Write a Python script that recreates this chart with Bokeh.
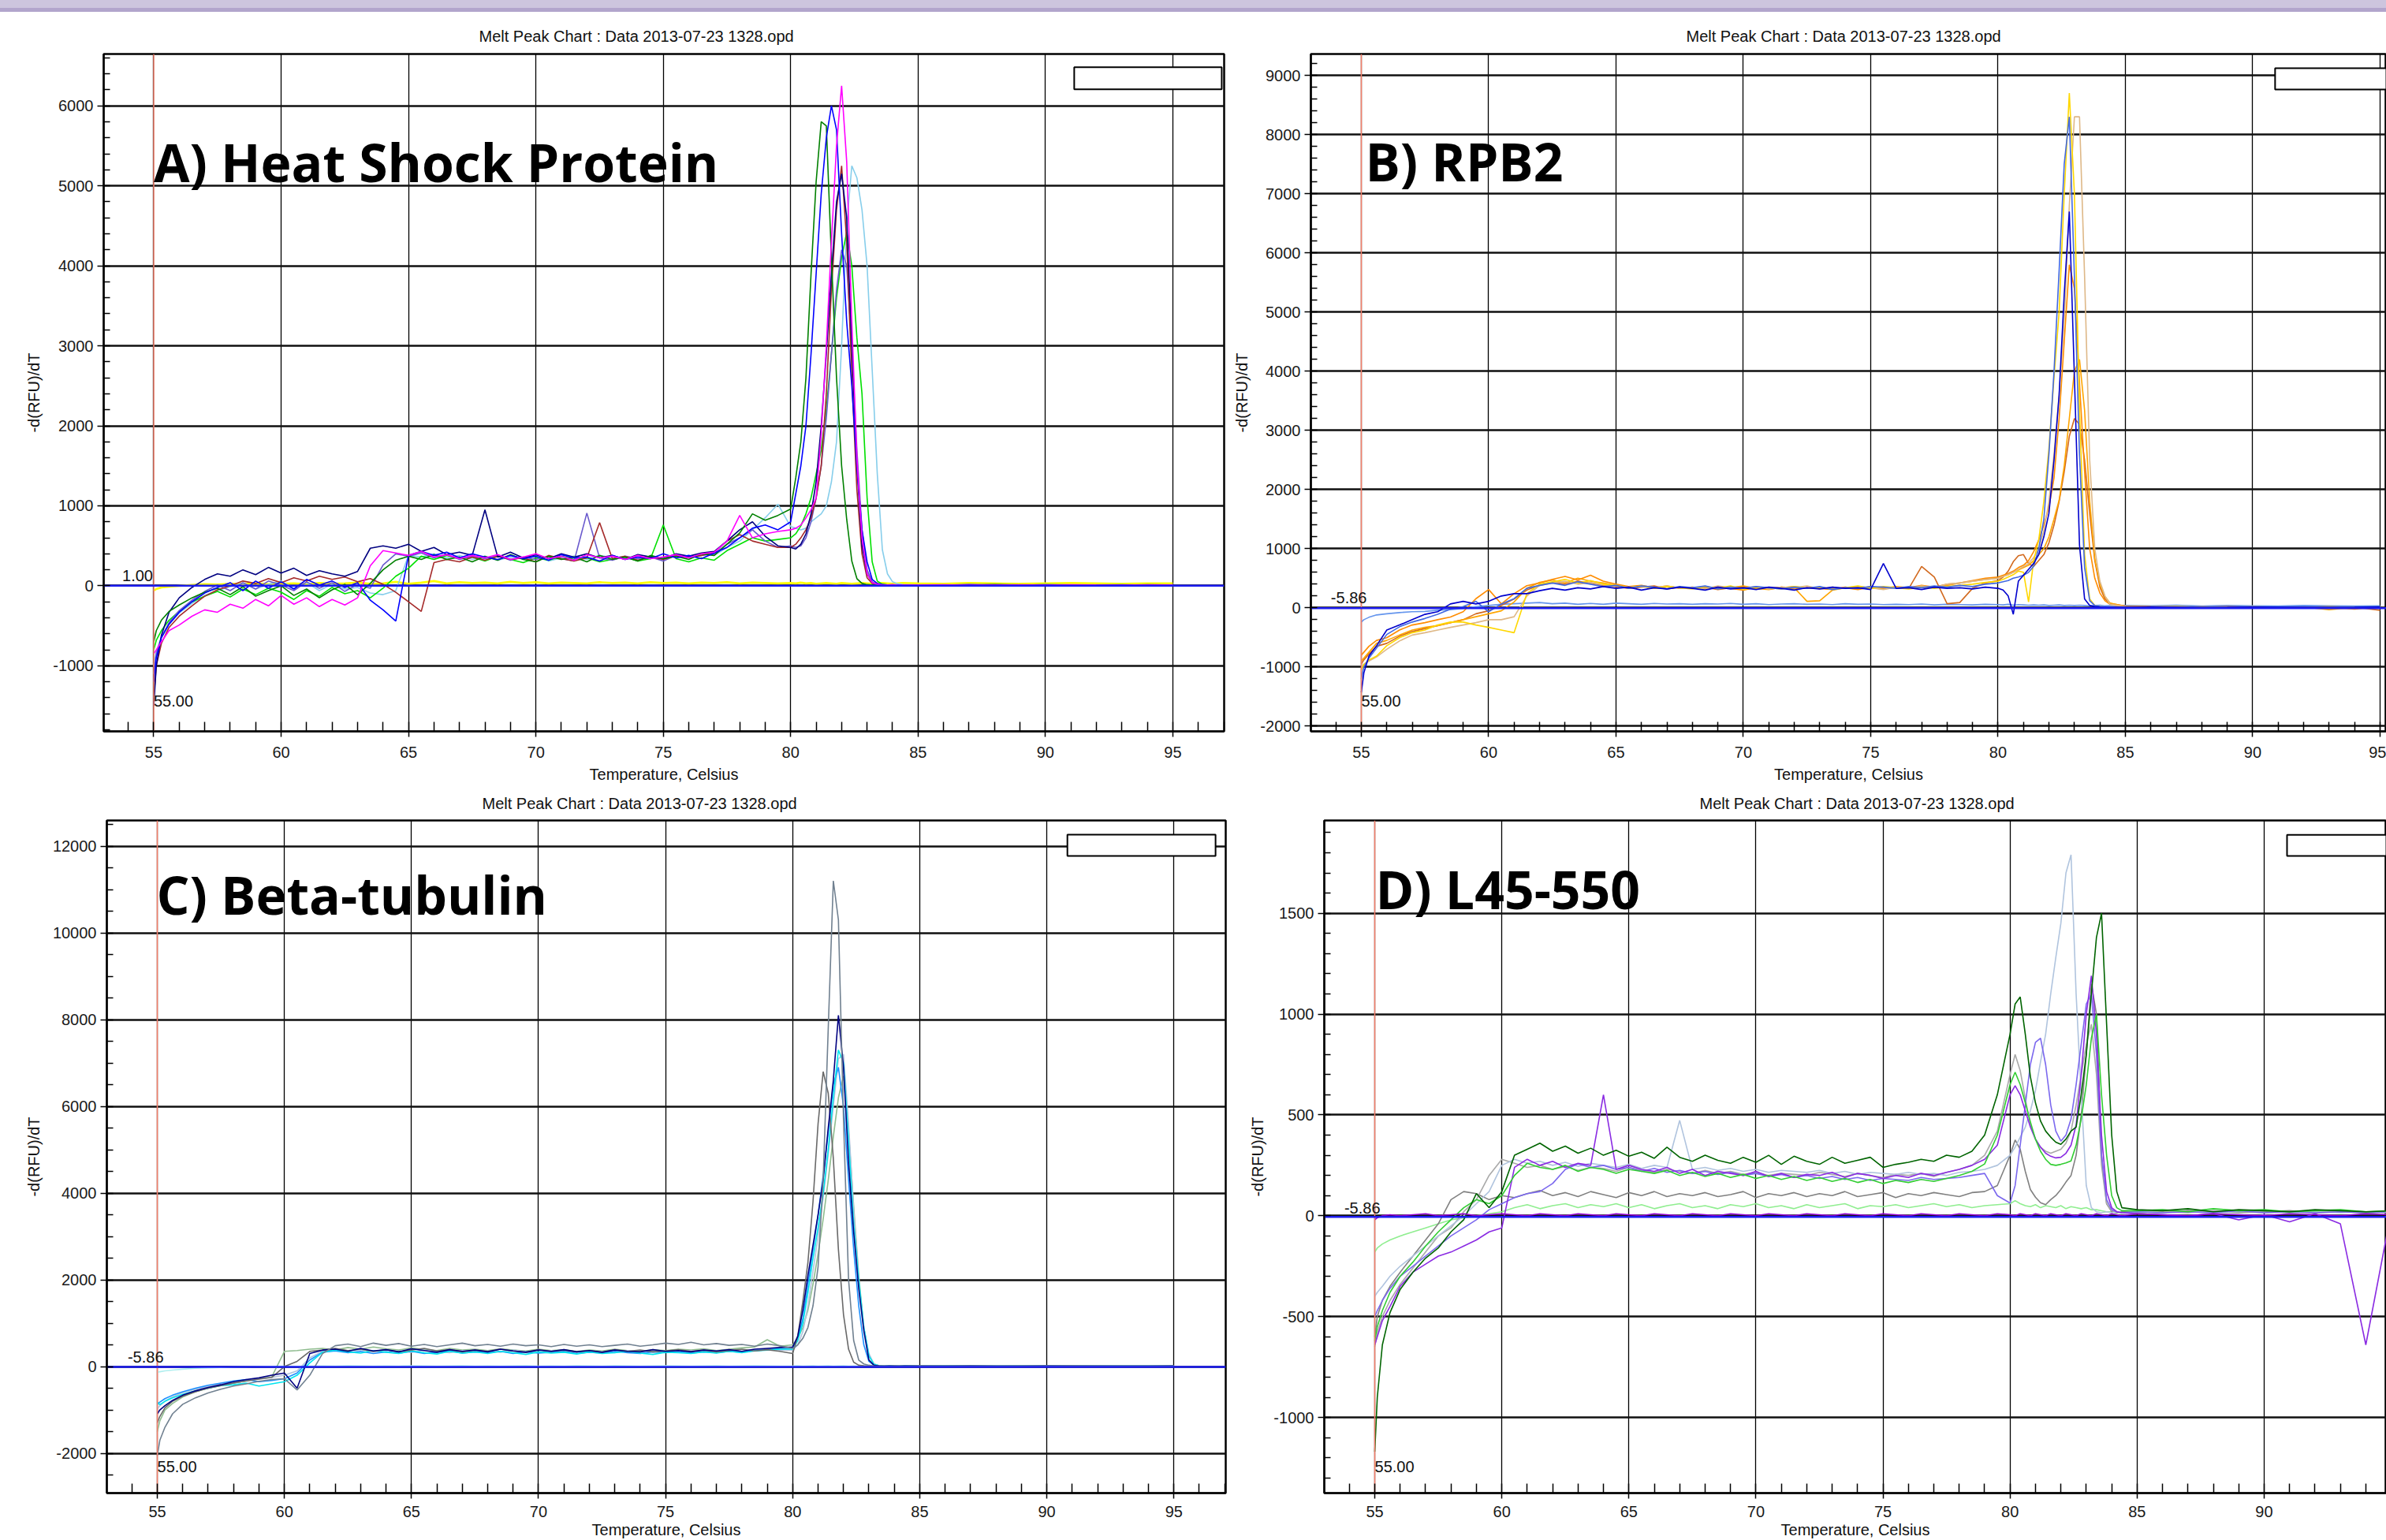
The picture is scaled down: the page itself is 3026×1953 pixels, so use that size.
from bokeh.plotting import figure
from bokeh.models import Range1d, FixedTicker, Span, Label, BoxAnnotation, Div
from bokeh.layouts import column, row
from bokeh.embed import file_html
from bokeh.resources import INLINE

# ---------------- data ----------------
TEMP = [55.0, 55.1, 55.3, 55.6,
        56.0, 56.5, 57.0, 57.5, 58.0, 58.5, 59.0, 59.5,
        60.0, 60.5, 61.0, 61.5, 62.0, 62.5, 63.0, 63.5,
        64.0, 64.5, 65.0, 65.5, 66.0, 66.5, 67.0, 67.5,
        68.0, 68.5, 69.0, 69.5, 70.0, 70.5, 71.0, 71.5,
        72.0, 72.5, 73.0, 73.5, 74.0, 74.5, 75.0, 75.5,
        76.0, 76.5, 77.0, 77.5, 78.0, 78.5, 79.0, 79.5,
        80.0, 80.2, 80.4, 80.6, 80.8, 81.0, 81.2, 81.4,
        81.6, 81.8, 82.0, 82.2, 82.4, 82.6, 82.8, 83.0,
        83.2, 83.4, 83.6, 83.8, 84.0, 84.2, 84.4,
        85.0, 86.0, 87.0, 88.0, 89.0, 90.0, 91.0, 92.0, 93.0, 94.0, 95.0]

# Panel A - Heat Shock Protein
A_DKGREEN = [-700, -560, -430, -320,
             -240, -150, -80, -30, -110, -10, -130, -60,
             0, -120, -40, -150, -50, 20, -110, 30,
             200, 320, 370, 330, 390, 330, 360, 300,
             370, 320, 390, 330, 300, 370, 330, 360,
             300, 380, 330, 360, 310, 380, 340, 370,
             330, 400, 380, 520, 660, 900, 820, 880,
             960, 1350, 1800, 2600, 3900, 5050, 5800, 5750,
             4100, 2600, 1500, 830, 310, 90, 30, 15,
             10, 15, 8, 12, 10, 8, 12,
             10, 12, 8, 15, 10, 12, 8, 10, 14, 9, 10]
A_BLUE = [-1200, -900, -650, -480,
          -330, -200, -90, -20, 40, -60, 60, -30,
          50, -40, 80, 10, 60, -20, 40, -180,
          -300, -440, 380, 430, 380, 420, 350, 400,
          360, 330, 380, 340, 370, 320, 390, 350,
          360, 310, 380, 330, 360, 340, 400, 350,
          380, 340, 410, 480, 600, 720, 760, 700,
          800, 1150, 1500, 2000, 2900, 3900, 4900, 5600,
          6000, 5700, 4400, 3300, 2500, 1500, 700, 300,
          80, 30, 15, 10, 12, 8, 10,
          12, 8, 15, 10, 9, 14, 10, 8, 12, 10, 9]
A_MAGENTA = [-850, -800, -700, -560,
             -490, -380, -300, -330, -230, -280, -170, -250,
             -120, -230, -150, -260, -170, -240, -150, 250,
             440, 410, 380, 430, 360, 390, 340, 380,
             350, 390, 330, 360, 400, 340, 370, 320,
             390, 350, 370, 330, 380, 340, 360, 390,
             350, 400, 420, 560, 880, 600, 650, 680,
             700, 720, 760, 850, 950, 1100, 1900, 3000,
             4300, 5500, 6250, 5300, 3300, 1600, 600, 150,
             40, 20, 12, 10, 15, 8, 12,
             10, 14, 9, 12, 10, 8, 13, 10, 9, 12, 10]
A_BROWN = [-1400, -1000, -720, -520,
           -380, -250, -130, -50, 0, 60, 30, 90,
           40, 100, 60, 120, 80, 110, 50, 90,
           20, -80, -200, -320, 290, 330, 300, 360,
           320, 370, 330, 350, 300, 380, 340, 310,
           350, 790, 340, 370, 320, 360, 330, 380,
           350, 380, 420, 560, 640, 560, 520, 480,
           480, 520, 600, 700, 850, 1100, 1500, 2400,
           3700, 4700, 5250, 4300, 2600, 1200, 400, 100,
           30, 15, 10, 12, 8, 10, 12,
           9, 12, 10, 8, 14, 10, 9, 12, 10, 8, 11]
A_NAVY = [-1500, -1000, -620, -330,
          -150, -20, 80, 150, 120, 200, 140, 230,
          160, 220, 130, 190, 150, 120, 180, 470,
          500, 470, 520, 430, 480, 390, 420, 380,
          950, 360, 420, 350, 390, 340, 400, 360,
          400, 350, 380, 330, 390, 360, 340, 400,
          370, 410, 430, 560, 700, 800, 620, 500,
          480, 460, 520, 650, 900, 1300, 2000, 2900,
          3900, 4800, 5150, 4600, 3000, 1500, 500, 150,
          40, 15, 10, 12, 8, 10, 12,
          10, 12, 9, 14, 10, 8, 12, 10, 9, 13, 10]
A_SKYBLUE = [-1000, -820, -640, -480,
             -340, -220, -120, -60, -10, 30, -40, 20,
             60, -30, 40, -60, 20, -40, -20, -90,
             -110, -60, 380, 360, 400, 350, 380, 330,
             370, 320, 360, 340, 380, 310, 350, 370,
             330, 380, 350, 360, 320, 370, 340, 390,
             360, 400, 380, 480, 560, 700, 850, 1020,
             740, 720, 700, 720, 800, 850, 900, 1000,
             1300, 1800, 3000, 4500, 5250, 5100, 4700, 4000,
             2700, 1400, 450, 150, 50, 25, 15,
             12, 10, 9, 12, 10, 8, 12, 10, 9, 11, 10]
A_LIME = [-800, -680, -560, -430,
          -320, -200, -130, -70, -140, -40, -110, -30,
          -80, -170, -60, -130, -20, -100, -60, -150,
          -30, 120, 220, 370, 330, 380, 340, 360,
          310, 370, 330, 290, 350, 320, 370, 330,
          350, 300, 330, 360, 310, 340, 760, 340,
          300, 350, 320, 440, 520, 600, 560, 580,
          600, 650, 750, 900, 1100, 1400, 1700, 2200,
          2900, 3600, 4100, 4420, 4000, 3100, 2400, 1100,
          300, 60, 20, 12, 10, 8, 12,
          10, 9, 12, 10, 8, 13, 10, 9, 12, 10, 8]
A_SLATE = [-1100, -850, -640, -460,
           -310, -180, -70, 10, -60, 40, -40, 60,
           10, -60, 50, -30, 40, -70, 20, -30,
           260, 400, 370, 410, 350, 390, 330, 370,
           340, 380, 320, 360, 330, 370, 340, 310,
           910, 350, 320, 370, 340, 360, 310, 380,
           350, 380, 400, 520, 600, 700, 560, 480,
           500, 480, 500, 600, 800, 1100, 1500, 2100,
           2900, 3700, 4200, 4000, 3000, 1700, 700, 200,
           50, 20, 10, 12, 8, 10, 12,
           10, 12, 9, 11, 10, 8, 12, 10, 9, 12, 10]
A_YELLOW = [-60, -40, -20, -10,
            0, 10, 20, 15, 25, 20, 30, 20,
            25, 30, 20, 35, 25, 30, 40, 25,
            30, 50, 25, 40, 60, 30, 45, 35,
            40, 30, 50, 35, 45, 30, 40, 35,
            30, 45, 35, 40, 30, 45, 35, 40,
            30, 40, 35, 45, 30, 40, 35, 30,
            35, 30, 40, 30, 35, 25, 30, 35,
            30, 25, 35, 30, 25, 30, 35, 30,
            25, 30, 35, 30, 25, 30, 35,
            30, 25, 35, 30, 25, 30, 35, 30, 25, 30, 30]

# Panel B - RPB2
B_YELLOW = [-1050, -960, -880, -815,
            -640, -505, -420, -375, -290, -240, -240, -290,
            -330, -375, -420, 240, 400, 440, 480, 420,
            460, 400, 380, 340, 370, 330, 360, 340,
            320, 360, 330, 370, 310, 350, 340, 320,
            360, 330, 350, 310, 340, 370, 330, 360,
            340, 320, 350, 330, 360, 380, 400, 430,
            450, 480, 520, 560, 620, 600, 100, 800,
            1150, 1800, 2700, 3900, 5000, 7000, 8700, 7000,
            3340, 900, 150, 40, 20, 15, 10,
            15, 10, 20, 12, 8, 15, 10, 12, 18, 10, 12]
B_TAN = [-1000, -950, -900, -830,
         -700, -560, -460, -420, -375, -330, -290, -250,
         -200, -200, -150, 200, 380, 420, 450, 400,
         430, 390, 370, 350, 360, 340, 370, 330,
         350, 320, 370, 340, 330, 360, 320, 350,
         340, 370, 320, 350, 330, 360, 340, 310,
         350, 330, 370, 340, 400, 420, 450, 480,
         500, 530, 560, 600, 650, 700, 750, 850,
         1000, 1300, 1800, 2600, 3600, 4850, 6800, 8300,
         8300, 5600, 2500, 1000, 450, 200, 60,
         20, 15, 10, 12, 18, 10, 12, 15, 10, 12, 14]
B_BLUE = [-1200, -1000, -850, -680,
          -450, -320, -240, -180, -110, -22, 22, 110,
          -66, 66, 155, 330, 380, 420, 380, 440,
          400, 360, 380, 330, 370, 350, 320, 360,
          340, 370, 320, 350, 330, 360, 340, 320,
          350, 330, 360, 310, 340, 330, 360, 350,
          330, 360, 340, 370, 350, 380, 360, 400,
          420, 440, 460, 500, 520, 550, 600, 700,
          1000, 1500, 2600, 4000, 5700, 7500, 8300, 5600,
          2580, 680, 120, 40, 20, 15, 10,
          12, 10, 15, 8, 12, 10, 14, 9, 12, 10, 20]
B_NAVY = [-1430, -1100, -815, -640,
          -375, -290, -200, -110, -66, 66, 110, 66,
          110, 200, 240, 240, 290, 330, 300, 340,
          320, 360, 330, 350, 300, 340, 320, 350,
          330, 300, 350, 320, 340, 310, 350, 330,
          300, 340, 320, 350, 330, 340, 310, 750,
          330, 340, 310, 350, 330, 340, 320, 350,
          330, 300, 200, -110, 450, 550, 650, 750,
          900, 1200, 1600, 2500, 3600, 5300, 6700, 3900,
          1060, 150, 40, 20, 15, 10, 12,
          10, 15, 12, 8, 10, 14, 10, 12, 9, 10, 15]
B_DKORANGE = [-800, -750, -650, -550,
              -505, -375, -290, -250, -200, -155, -66, 155,
              310, 66, 240, 375, 420, 480, 530, 470,
              550, 450, 400, 360, 380, 340, 370, 330,
              350, 320, 360, 330, 300, 350, 320, 340,
              360, 330, 350, 320, 340, 310, 350, 330,
              360, 340, 380, 350, 400, 420, 460, 500,
              520, 550, 580, 620, 680, 720, 800, 950,
              1150, 1400, 1700, 2200, 3200, 4500, 5800, 5400,
              3800, 2300, 1000, 500, 250, 120, 60,
              20, 15, 10, 18, 12, 10, 15, 12, 10, -20, 15]
B_ORANGE = [-900, -850, -750, -600,
            -550, -460, -375, -330, -300, -250, -200, -150,
            -100, -50, 100, 330, 430, 470, 420, 500,
            450, 420, 380, 350, 370, 330, 360, 340,
            330, 360, 320, 340, 370, 330, 310, 350,
            340, 110, 120, 300, 340, 320, 360, 330,
            350, 330, 360, 340, 380, 420, 450, 480,
            500, 530, 560, 600, 640, 680, 720, 800,
            900, 1000, 1200, 1500, 1820, 2400, 3200, 4000,
            4200, 3340, 1800, 830, 400, 190, 80,
            25, 15, 20, 10, 12, 18, 10, 15, -30, 10, 12]
B_CHOC = [-950, -880, -780, -650,
          -600, -480, -400, -350, -300, -250, -200, -100,
          -50, 40, 150, 300, 380, 430, 400, 450,
          420, 380, 360, 330, 350, 370, 320, 350,
          330, 350, 310, 340, 360, 320, 330, 350,
          320, 340, 330, 310, 350, 330, 340, 320,
          350, 330, 700, 520, 70, 90, 330, 420,
          460, 520, 620, 780, 880, 900, 750, 700,
          800, 900, 1100, 1400, 1800, 2300, 2900, 3200,
          3100, 2500, 1600, 800, 350, 150, 75,
          30, 20, 15, 10, 20, 12, 15, 10, 18, 12, -40]
B_CORNFLOWER = [-240, -200, -160, -120,
                -100, -80, -66, -60, -40, -30, -10, 20,
                40, 60, 70, 80, 90, 70, 80, 60,
                75, 60, 80, 70, 60, 75, 65, 70,
                60, 70, 65, 75, 60, 70, 55, 65,
                70, 60, 65, 55, 70, 60, 65, 55,
                60, 55, 65, 50, 60, 55, 50, 60,
                55, 50, 60, 45, 55, 50, 45, 50,
                45, 50, 40, 45, 50, 40, 45, 40,
                45, 40, 35, 40, 45, 35, 40,
                40, 35, 45, 30, 40, 35, 30, 40, 35, 30, 35]

# Panel C - Beta-tubulin
C_SLATE = [-2050, -1700, -1400, -1090,
           -870, -720, -610, -520, -450, -400, -340, -300,
           -280, -540, -200, 300, 480, 520, 460, 540,
           490, 530, 470, 510, 460, 500, 540, 480,
           510, 470, 520, 480, 500, 460, 510, 470,
           500, 460, 490, 520, 470, 500, 540, 510,
           560, 500, 530, 490, 510, 470, 520, 480,
           420, 500, 650, 900, 1400, 2300, 4300, 7800,
           11200, 10300, 5700, 2000, 600, 150, 60, 30,
           15, 10, 12, 8, 10, 12, 8,
           10, 12, 8, 10, 14, 10, 8, 12, 10, 9, 11]
C_NAVY = [-1090, -1000, -900, -780,
          -660, -560, -480, -420, -350, -300, -260, -200,
          -150, -500, 300, 380, 400, 350, 420, 360,
          390, 340, 410, 370, 330, 390, 350, 380,
          340, 400, 360, 330, 380, 350, 390, 340,
          370, 330, 380, 350, 340, 390, 350, 370,
          340, 380, 360, 390, 350, 400, 420, 440,
          450, 700, 1300, 2100, 2800, 3500, 4300, 5500,
          6600, 8100, 6900, 4700, 3100, 1800, 830, 150,
          30, 15, 10, 12, 8, 10, 12,
          10, 8, 12, 10, 9, 12, 10, 8, 11, 10, 12]
C_CYAN = [-820, -880, -800, -720,
          -640, -560, -500, -440, -420, -380, -450, -400,
          -350, -200, 85, 330, 380, 340, 310, 370,
          330, 300, 360, 320, 290, 350, 310, 340,
          300, 350, 320, 280, 340, 310, 330, 290,
          340, 300, 320, 350, 310, 280, 330, 320,
          300, 340, 310, 350, 320, 360, 380, 400,
          400, 600, 1000, 1700, 2500, 3200, 4000, 5000,
          6200, 7300, 7000, 5200, 3300, 2000, 900, 250,
          50, 20, 10, 12, 8, 10, 12,
          9, 12, 10, 8, 12, 10, 9, 11, 10, 8, 10]
C_LSTEEL = [-980, -900, -800, -700,
            -600, -520, -460, -400, -350, -320, -280, -250,
            -200, -100, 200, 350, 400, 360, 390, 340,
            380, 350, 330, 380, 350, 320, 370, 340,
            360, 330, 380, 340, 320, 370, 350, 330,
            360, 340, 320, 370, 340, 360, 330, 350,
            370, 340, 360, 380, 350, 390, 410, 380,
            380, 500, 800, 1400, 2200, 3000, 3900, 4900,
            6000, 7100, 7200, 5600, 3600, 2000, 900, 300,
            60, 20, 10, 12, 8, 10, 12,
            10, 12, 9, 10, 12, 8, 10, 11, 9, 10, 12]
C_DIMGRAY = [-1300, -1150, -950, -800,
             -680, -580, -500, -440, -380, -330, -290, -250,
             0, 120, 350, 380, 420, 370, 400, 350,
             390, 340, 380, 420, 360, 390, 340, 380,
             350, 400, 360, 330, 390, 350, 380, 340,
             370, 330, 390, 350, 380, 340, 360, 390,
             350, 380, 340, 370, 400, 360, 390, 350,
             300, 700, 1500, 2400, 3800, 5600, 6800, 6300,
             4800, 2700, 1200, 400, 100, 30, 20, 15,
             10, 12, 8, 10, 12, 9, 10,
             12, 10, 8, 11, 10, 9, 12, 10, 8, 10, 11]
C_DSGREEN = [-1500, -1250, -1000, -850,
             -700, -580, -500, -430, -380, -330, -280, -240,
             350, 370, 400, 420, 380, 440, 400, 450,
             410, 380, 430, 390, 370, 420, 380, 400,
             370, 410, 380, 360, 400, 370, 390, 350,
             380, 360, 400, 370, 350, 390, 370, 400,
             380, 410, 370, 400, 430, 450, 620, 470,
             500, 650, 900, 1300, 1900, 2600, 3400, 4300,
             5300, 6200, 6700, 5400, 3700, 2100, 900, 250,
             60, 20, 10, 12, 8, 10, 12,
             10, 9, 12, 10, 8, 12, 10, 9, 11, 10, 8]
C_DODGER = [-870, -820, -740, -660,
            -580, -500, -430, -380, -330, -300, -350, -320,
            -280, -150, 150, 330, 360, 320, 350, 300,
            340, 310, 350, 300, 330, 360, 310, 340,
            320, 350, 300, 340, 310, 330, 350, 300,
            330, 310, 350, 320, 300, 340, 320, 350,
            310, 340, 320, 350, 330, 370, 390, 410,
            420, 650, 1100, 1900, 2700, 3500, 4400, 5400,
            6500, 6900, 6000, 4300, 2700, 1400, 500, 120,
            30, 15, 10, 12, 8, 10, 12,
            8, 12, 10, 9, 11, 10, 8, 12, 10, 9, 10]
C_PALETURQ = [-130, -120, -100, -80,
              -60, -40, -30, -20, -10, -5, 0, 5,
              10, 5, 10, 15, 10, 20, 15, 10,
              15, 10, 20, 15, 10, 15, 20, 10,
              15, 10, 15, 20, 10, 15, 10, 20,
              15, 10, 20, 15, 10, 15, 20, 15,
              10, 15, 20, 10, 15, 20, 15, 10,
              15, 20, 10, 15, 20, 10, 15, 20,
              10, 15, 20, 10, 15, 10, 20, 15,
              10, 15, 10, 20, 15, 10, 15,
              10, 15, 20, 10, 15, 10, 20, 15, 10, 15, 10]

# Panel D - L45-550
D_DKGREEN = [-1170, -900, -640, -480,
             -365, -280, -210, -160, -80, -20, 110, 40,
             120, 300, 330, 360, 320, 345, 310, 335,
             300, 325, 295, 315, 285, 340, 290, 270,
             300, 275, 260, 290, 265, 300, 255, 295,
             270, 255, 290, 260, 275, 290, 240, 255,
             265, 280, 270, 300, 290, 320, 400, 600,
             900, 1050, 1085, 900, 690, 560, 470, 420,
             390, 365, 354, 380, 420, 440, 600, 800,
             1100, 1380, 1500, 950, 400, 120, 40,
             30, 25, 35, 20, 30, 25, 20, 30, 25, 20, 25]
D_GREEN = [-620, -550, -470, -380,
           -300, -230, -150, -80, -20, 40, 80, 60,
           100, 200, 260, 240, 230, 250, 220, 240,
           230, 210, 230, 220, 210, 225, 200, 215,
           195, 210, 190, 205, 185, 200, 180, 195,
           175, 190, 170, 185, 165, 180, 160, 175,
           165, 180, 170, 185, 200, 220, 257, 400,
           650, 712, 650, 560, 466, 380, 320, 280,
           255, 250, 255, 262, 272, 350, 480, 650,
           880, 1000, 600, 300, 100, 40, 25,
           25, 30, 20, 35, 25, 30, 20, 25, 30, 20, 25]
D_PALEGREEN = [-180, -160, -140, -120,
               -100, -80, -60, -40, -20, -10, 0, 10,
               20, 40, 55, 35, 50, 60, 40, 55,
               45, 60, 40, 55, 35, 50, 60, 40,
               50, 35, 55, 45, 60, 40, 50, 35,
               55, 40, 50, 60, 35, 50, 45, 55,
               40, 50, 60, 45, 55, 40, 50, 55,
               60, 75, 60, 50, 45, 55, 40, 50,
               45, 40, 50, 35, 45, 40, 35, 40,
               30, 30, 25, 20, 20, 15, 20,
               15, 20, 25, 15, 20, 25, 15, 20, 25, 15, 20]
D_GRAY = [-600, -500, -420, -350,
          -280, -200, -120, -40, 80, 120, 110, 80,
          100, 90, 110, 125, 100, 115, 95, 120,
          105, 90, 115, 100, 120, 95, 110, 100,
          115, 95, 105, 120, 90, 110, 100, 115,
          95, 110, 100, 120, 95, 105, 115, 90,
          110, 100, 115, 105, 95, 115, 120, 150,
          300, 376, 330, 220, 130, 92, 65, 55,
          80, 100, 130, 167, 200, 300, 500, 800,
          1150, 1000, 300, 60, 20, 15, 20,
          20, 15, 25, 20, 15, 20, 25, 15, 20, 15, 20]
D_SILVER = [-650, -580, -500, -420,
            -340, -260, -180, -100, -60, 20, 80, 200,
            280, 260, 240, 250, 230, 245, 225, 240,
            235, 220, 240, 225, 215, 230, 220, 210,
            225, 210, 220, 205, 215, 200, 210, 205,
            200, 215, 205, 195, 210, 200, 190, 205,
            200, 210, 195, 215, 230, 250, 300, 420,
            700, 800, 720, 580, 450, 380, 340, 320,
            310, 320, 330, 360, 420, 550, 700, 850,
            950, 700, 250, 60, 25, 20, 15,
            15, 20, 15, 25, 20, 15, 20, 15, 25, 20, 15]
D_BVIOLET = [-640, -600, -520, -450,
             -350, -280, -240, -200, -180, -150, -120, -80,
             -60, 240, 280, 250, 270, 240, 260, 250,
             600, 230, 250, 230, 220, 240, 210, 230,
             200, 220, 210, 200, 220, 195, 210, 190,
             205, 200, 215, 190, 210, 200, 185, 200,
             190, 210, 200, 215, 230, 250, 280, 350,
             600, 645, 600, 520, 440, 380, 340, 310,
             295, 287, 290, 310, 350, 450, 700, 1000,
             1190, 900, 400, 120, 40, 20, 15,
             10, 5, 0, 10, -20, 5, -30, 10, -40, -640, 20]
D_SLATE = [-500, -470, -420, -360,
           -300, -250, -200, -150, -100, -60, -20, 30,
           60, 90, 110, 120, 160, 230, 257, 240,
           250, 230, 240, 220, 235, 215, 225, 210,
           220, 205, 215, 200, 210, 195, 205, 190,
           200, 185, 195, 180, 190, 175, 185, 180,
           175, 190, 180, 185, 190, 200, 210, 100,
           63, 150, 350, 550, 750, 860, 880, 750,
           550, 420, 370, 400, 480, 650, 850, 1050,
           1100, 800, 300, 80, 30, 20, 15,
           20, 15, 20, 15, 25, 15, 20, 15, 20, 15, 20]
D_LSTEEL = [-400, -380, -350, -300,
            -250, -200, -150, -100, -50, 0, 60, 120,
            250, 280, 260, 270, 250, 265, 245, 260,
            250, 240, 255, 235, 250, 240, 473, 230,
            240, 225, 235, 220, 230, 215, 225, 220,
            215, 225, 210, 220, 205, 215, 210, 205,
            215, 205, 210, 200, 215, 220, 230, 250,
            300, 340, 390, 440, 520, 620, 764, 900,
            1100, 1280, 1450, 1700, 1790, 1100, 600, 150,
            40, 20, 15, 20, 15, 20, 15,
            20, 15, 20, 15, 20, 25, 15, 20, 15, 20, 15]
D_VIOLET = [-20, -10, 0, 5,
            0, 5, 10, 0, 5, 10, 0, 5,
            10, 5, 0, 10, 5, 0, 10, 5,
            0, 10, 5, 0, 10, 5, 0, 10,
            5, 0, 10, 5, 0, 10, 5, 0,
            10, 5, 0, 10, 5, 0, 10, 5,
            0, 10, 5, 0, 10, 5, 0, 10,
            5, 0, 10, 5, 0, 10, 5, 0,
            10, 5, 0, 10, 5, 0, 10, 5,
            0, 10, 5, 0, 10, 5, 0,
            10, 5, 0, 10, 5, 0, 10, 5, 0, 10, 5]

TITLE = "Melt Peak Chart : Data 2013-07-23 1328.opd"
X_MAJOR = [55, 60, 65, 70, 75, 80, 85, 90, 95]
A_Y_MAJOR = [-1000, 0, 1000, 2000, 3000, 4000, 5000, 6000]
B_Y_MAJOR = [-2000, -1000, 0, 1000, 2000, 3000, 4000, 5000, 6000, 7000, 8000, 9000]
C_Y_MAJOR = [-2000, 0, 2000, 4000, 6000, 8000, 10000, 12000]
D_Y_MAJOR = [-1000, -500, 0, 500, 1000, 1500]

SERIES_A = [("#ffff00", A_YELLOW), ("#87ceeb", A_SKYBLUE), ("#00e000", A_LIME), ("#6a5acd", A_SLATE),
            ("#a52a2a", A_BROWN), ("#000080", A_NAVY), ("#008000", A_DKGREEN), ("#0000ff", A_BLUE),
            ("#ff00ff", A_MAGENTA)]
SERIES_B = [("#6495ed", B_CORNFLOWER), ("#d2691e", B_CHOC), ("#ffa500", B_ORANGE), ("#ff8c00", B_DKORANGE),
            ("#deb887", B_TAN), ("#ffd700", B_YELLOW), ("#4169e1", B_BLUE), ("#0000cd", B_NAVY)]
SERIES_C = [("#afeeee", C_PALETURQ), ("#8fbc8f", C_DSGREEN), ("#b0c4de", C_LSTEEL), ("#1e90ff", C_DODGER),
            ("#00e5ee", C_CYAN), ("#696969", C_DIMGRAY), ("#000080", C_NAVY), ("#708090", C_SLATE)]
SERIES_D = [("#90ee90", D_PALEGREEN), ("#808080", D_GRAY), ("#a9a9a9", D_SILVER), ("#b0c4de", D_LSTEEL),
            ("#7b68ee", D_SLATE), ("#8a2be2", D_BVIOLET), ("#32cd32", D_GREEN), ("#006400", D_DKGREEN),
            ("#9400d3", D_VIOLET)]

FONT = "Liberation Sans"


def panel(width, height, bl, br, bt, bb, xr, yr, frame_h, ymajor, ystep, series,
          name, name_px, name_dx, thr, thr_text, thr_dx, thr_px, box,
          ylab_standoff, tick_standoff, xlab_standoff, label55_px, title_standoff):
    p = figure(width=width, height=height, x_range=Range1d(*xr), y_range=Range1d(*yr),
               output_backend="svg", toolbar_location=None,
               min_border_left=bl, min_border_right=br, min_border_top=bt, min_border_bottom=bb,
               background_fill_color="white", border_fill_color="white")
    p.title.text = TITLE
    p.title.align = "left"
    p.title.offset = 476
    p.title.standoff = title_standoff
    p.title.text_font = FONT
    p.title.text_font_size = "20px"
    p.title.text_font_style = "normal"
    p.title.text_color = "#111111"

    xt = FixedTicker(ticks=X_MAJOR, minor_ticks=list(range(53, 98)))
    ymin = list(range(int(yr[0] // ystep) * ystep, int(yr[1]) + 1, ystep))
    yt = FixedTicker(ticks=ymajor, minor_ticks=ymin)
    p.xaxis.ticker = xt
    p.yaxis.ticker = yt
    p.xgrid.ticker = xt
    p.ygrid.ticker = yt
    p.yaxis.major_label_overrides = {v: str(v) for v in ymajor}
    for ax in (p.xaxis, p.yaxis):
        ax.major_label_text_font = FONT
        ax.major_label_text_font_size = "20px"
        ax.major_label_text_color = "#1a1a1a"
        ax.axis_line_color = "black"
        ax.axis_line_width = 2
        ax.major_tick_line_color = "black"
        ax.major_tick_line_width = 1.5
        ax.minor_tick_line_color = "black"
        ax.minor_tick_line_width = 1.5
        ax.axis_label_text_font = FONT
        ax.axis_label_text_font_size = "20px"
        ax.axis_label_text_font_style = "normal"
        ax.axis_label_text_color = "#111111"
    p.xaxis.major_tick_in = 0
    p.xaxis.major_tick_out = 7
    p.xaxis.minor_tick_in = 12
    p.xaxis.minor_tick_out = 0
    p.xaxis.major_label_standoff = tick_standoff
    p.xaxis.axis_label = "Temperature, Celsius"
    p.xaxis.axis_label_standoff = xlab_standoff
    p.yaxis.major_tick_in = 0
    p.yaxis.major_tick_out = 8
    p.yaxis.minor_tick_in = 8
    p.yaxis.minor_tick_out = 0
    p.yaxis.major_label_standoff = 5
    p.yaxis.axis_label = "-d(RFU)/dT"
    p.yaxis.axis_label_standoff = ylab_standoff

    p.xgrid.grid_line_color = "black"
    p.xgrid.grid_line_width = 1.3
    p.ygrid.grid_line_color = "#111111"
    p.ygrid.grid_line_width = 2.4
    p.outline_line_color = "black"
    p.outline_line_width = 2.5

    sy = (yr[1] - yr[0]) / frame_h

    # reference line at 55 C and the threshold line sit beneath the traces
    p.add_layout(Span(location=55, dimension="height", line_color="#f5806c", line_width=1.5, level="glyph"))
    p.add_layout(Span(location=thr, dimension="width", line_color="#1c1cf0", line_width=2.5, level="glyph"))

    for color, vals in series:
        lw = 2.6 if color == "#ffff00" else 1.6
        p.line(TEMP, vals, line_color=color, line_width=lw)

    p.add_layout(BoxAnnotation(left=box[0], right=box[1], bottom=box[2], top=box[3],
                               fill_color="white", fill_alpha=1.0, line_color="black",
                               line_width=2, line_alpha=1.0))

    p.add_layout(Label(x=55, y=yr[1] - name_px * sy, x_offset=name_dx, text=name,
                       text_font="Open Sans", text_font_style="bold", text_font_size="66px",
                       text_color="black", text_baseline="alphabetic", text_align="left"))
    p.add_layout(Label(x=55, y=thr + thr_px * sy, x_offset=thr_dx, text=thr_text,
                       text_font=FONT, text_font_size="20px", text_color="#111111",
                       text_baseline="alphabetic", text_align="right"))
    p.add_layout(Label(x=55, y=yr[0] + label55_px * sy, x_offset=0, text="55.00",
                       text_font=FONT, text_font_size="20px", text_color="#111111",
                       text_baseline="alphabetic", text_align="left"))
    return p


pA = panel(1556, 980, 131, 4, 53, 66, (53.035, 97.015), (-1819, 6647), 861, A_Y_MAJOR, 200,
           SERIES_A, "A) Heat Shock Protein", 137, 0, 1.0, "1.00", -1, 13,
           (91.13, 96.92, 6206, 6482), 10, 12, 7, 39, 23)
pB = panel(1470, 980, 106, 0, 53, 66, (53.02, 95.25), (-2088, 9362), 861, B_Y_MAJOR, 200,
           SERIES_B, "B) RPB2", 136, 5, -5.86, "-5.86", 7, 13,
           (90.88, 95.25, 8763, 9122), 9, 12, 7, 39, 23)
pC = panel(1556, 958, 135, 2, 45, 57, (53.014, 97.04), (-2917, 12591), 856, C_Y_MAJOR, 500,
           SERIES_C, "C) Beta-tubulin", 94, -1, -5.86, "-5.86", 8, 12,
           (90.81, 96.64, 11775, 12264), 10, 9, 2, 34, 21)
pD = panel(1470, 958, 123, 0, 45, 57, (53.014, 94.81), (-1375, 1960), 856, D_Y_MAJOR, 100,
           SERIES_D, "D) L45-550", 87, 1, -5.86, "-5.86", 7, 11,
           (90.9, 94.81, 1784, 1889), 6, 9, 2, 34, 21)

band = Div(text="", width=3026, height=15, margin=(0, 0, 0, 0),
           styles={"background": "linear-gradient(to bottom, #cdc5de 0%, #cdc5de 66%, #b2a5cc 66%, #b2a5cc 100%)"})

layout = column(band, row(pA, pB), row(pC, pD))

open("out.html", "w").write(file_html(layout, INLINE))
